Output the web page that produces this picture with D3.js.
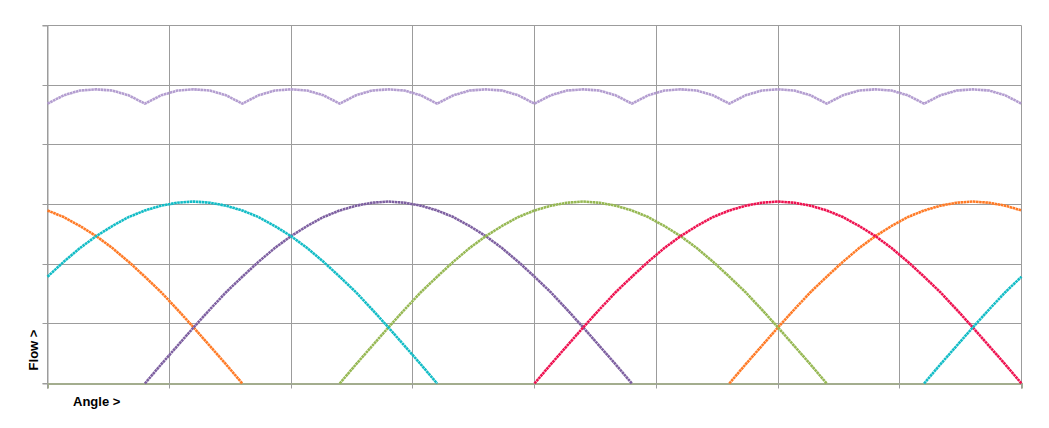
<!DOCTYPE html>
<html>
<head>
<meta charset="utf-8">
<script src="https://cdn.jsdelivr.net/npm/d3@7"></script>
<style>
  html, body { margin: 0; padding: 0; background: #fff; }
  svg { display: block; }
  text { font-family: "Liberation Sans", Arial, sans-serif; }
</style>
</head>
<body>
<svg id="chart" width="1049" height="428"></svg>
<script>
// ---- data ----
const angles = [0,6,12,18,24,30,36,42,48,54,60,66,72,78,84,90,96,102,108,114,120,126,132,138,144,150,156,162,168,174,180,186,192,198,204,210,216,222,228,234,240,246,252,258,264,270,276,282,288,294,300,306,312,318,324,330,336,342,348,354,360];
const xTicks = [0,45,90,135,180,225,270,315,360];
const yTicks = [0,1,2,3,4,5,6];

const orange = [2.90,2.79,2.64,2.47,2.27,2.04,1.79,1.53,1.24,0.94,0.63,0.32,0,
  0,0,0,0,0,0,0,0,0,0,0,0,0,0,0,0,0,0,0,0,0,0,0,0,0,0,0,0,0,
  0,0.32,0.63,0.94,1.24,1.53,1.79,2.04,2.27,2.47,2.64,2.79,2.90,2.98,3.03,3.05,3.03,2.98,2.90];
const purple = [0,0,0,0,0,0,
  0,0.32,0.63,0.94,1.24,1.53,1.79,2.04,2.27,2.47,2.64,2.79,2.90,2.98,3.03,3.05,3.03,2.98,2.90,2.79,2.64,2.47,2.27,2.04,1.79,1.53,1.24,0.94,0.63,0.32,0,
  0,0,0,0,0,0,0,0,0,0,0,0,0,0,0,0,0,0,0,0,0,0,0,0];
const green = [0,0,0,0,0,0,0,0,0,0,0,0,0,0,0,0,0,0,
  0,0.32,0.63,0.94,1.24,1.53,1.79,2.04,2.27,2.47,2.64,2.79,2.90,2.98,3.03,3.05,3.03,2.98,2.90,2.79,2.64,2.47,2.27,2.04,1.79,1.53,1.24,0.94,0.63,0.32,0,
  0,0,0,0,0,0,0,0,0,0,0,0];
const red = [0,0,0,0,0,0,0,0,0,0,0,0,0,0,0,0,0,0,0,0,0,0,0,0,0,0,0,0,0,0,
  0,0.32,0.63,0.94,1.24,1.53,1.79,2.04,2.27,2.47,2.64,2.79,2.90,2.98,3.03,3.05,3.03,2.98,2.90,2.79,2.64,2.47,2.27,2.04,1.79,1.53,1.24,0.94,0.63,0.32,0];
const cyan = [1.79,2.04,2.27,2.47,2.64,2.79,2.90,2.98,3.03,3.05,3.03,2.98,2.90,2.79,2.64,2.47,2.27,2.04,1.79,1.53,1.24,0.94,0.63,0.32,0,
  0,0,0,0,0,0,0,0,0,0,0,0,0,0,0,0,0,0,0,0,0,0,0,0,0,0,0,0,0,
  0,0.32,0.63,0.94,1.24,1.53,1.79];
const total = [4.69,4.83,4.91,4.93,4.91,4.83, 4.69,4.83,4.91,4.93,4.91,4.83,
  4.69,4.83,4.91,4.93,4.91,4.83, 4.69,4.83,4.91,4.93,4.91,4.83,
  4.69,4.83,4.91,4.93,4.91,4.83, 4.69,4.83,4.91,4.93,4.91,4.83,
  4.69,4.83,4.91,4.93,4.91,4.83, 4.69,4.83,4.91,4.93,4.91,4.83,
  4.69,4.83,4.91,4.93,4.91,4.83, 4.69,4.83,4.91,4.93,4.91,4.83, 4.69];

const seriesList = [
  { name: "Piston 4", values: orange, color: "#FF7A25" },
  { name: "Piston 1", values: purple, color: "#7D5FA0" },
  { name: "Piston 2", values: green,  color: "#96B853" },
  { name: "Piston 3", values: red,    color: "#EE1250" },
  { name: "Piston 5", values: cyan,   color: "#12BCC6" },
  { name: "Total",    values: total,  color: "#B39DD0" }
];

// ---- layout ----
const svg = d3.select("#chart");
const plotL = 47.5, plotR = 1021.5, plotT = 25.5, plotB = 383.5;

const x = d3.scaleLinear().domain([0, 360]).range([plotL, plotR]);
const y = d3.scaleLinear().domain([0, 6]).range([plotB, plotT]);

const gridColor = "#9C9C9C";

// horizontal grid
svg.append("g").selectAll("line").data(yTicks).join("line")
  .attr("x1", plotL).attr("x2", plotR)
  .attr("y1", d => Math.round(y(d) - 0.5) + 0.5).attr("y2", d => Math.round(y(d) - 0.5) + 0.5)
  .attr("stroke", gridColor).attr("stroke-width", 1);

// vertical grid
svg.append("g").selectAll("line").data(xTicks).join("line")
  .attr("x1", d => Math.round(x(d) - 0.5) + 0.5).attr("x2", d => Math.round(x(d) - 0.5) + 0.5)
  .attr("y1", plotT).attr("y2", plotB)
  .attr("stroke", gridColor).attr("stroke-width", 1);

// y axis ticks
const yAxis = d3.axisLeft(y).tickValues(yTicks).tickSize(5).tickFormat("");
const gy = svg.append("g").attr("transform", `translate(${plotL},0)`).call(yAxis);
gy.select(".domain").attr("stroke", gridColor);
gy.selectAll(".tick").attr("transform", d => `translate(0,${Math.round(y(d) - 0.5) + 0.5})`);
gy.selectAll(".tick line").attr("stroke", gridColor);

// x axis ticks
const xAxis = d3.axisBottom(x).tickValues(xTicks).tickSize(5).tickFormat("");
const gx = svg.append("g").attr("transform", `translate(0,${plotB})`).call(xAxis);
gx.select(".domain").attr("stroke", "#A3AD8E").attr("stroke-width", 2);
gx.selectAll(".tick").attr("transform", d => `translate(${Math.round(x(d) - 0.5) + 0.5},0)`);
gx.selectAll(".tick line").attr("stroke", gridColor);

// lines
const line = d3.line()
  .defined((d, i, arr) => d.v > 0 || (arr[i - 1] && arr[i - 1].v > 0) || (arr[i + 1] && arr[i + 1].v > 0))
  .x(d => x(d.a))
  .y(d => y(d.v));

seriesList.forEach(s => {
  const pts = angles.map((a, i) => ({ a, v: s.values[i] }));
  svg.append("path")
    .datum(pts)
    .attr("fill", "none")
    .attr("stroke", s.color)
    .attr("stroke-width", 2.6)
    .attr("stroke-dasharray", "2.6 0.5")
    .attr("stroke-linejoin", "round")
    .attr("d", line);
});

// axis titles
svg.append("text")
  .attr("x", 73).attr("y", 406)
  .attr("font-size", 13).attr("font-weight", "bold").attr("fill", "#000")
  .text("Angle >");

svg.append("text")
  .attr("transform", "translate(38,350) rotate(-90)")
  .attr("text-anchor", "middle")
  .attr("font-size", 13).attr("font-weight", "bold").attr("fill", "#000")
  .text("Flow >");
</script>
</body>
</html>
